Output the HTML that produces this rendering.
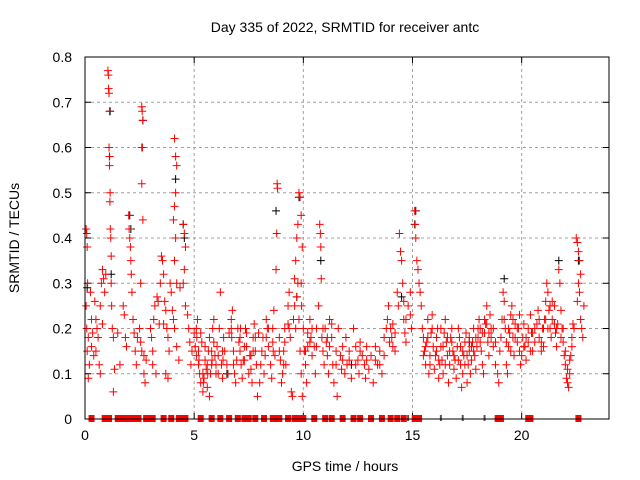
<!DOCTYPE html>
<html><head><meta charset="utf-8"><style>
body{margin:0;background:#fff}
svg{display:block;font-family:"Liberation Sans",sans-serif}
</style></head><body>
<svg id="chart" width="640" height="480">
<text x="345" y="32" font-size="14" text-anchor="middle">Day 335 of 2022, SRMTID for receiver antc</text>
<text x="345" y="471" font-size="14" text-anchor="middle">GPS time / hours</text>
<text transform="translate(19,238) rotate(-90)" font-size="14" text-anchor="middle">SRMTID / TECUs</text>
<g id="grid"></g>
<g id="ticks"></g>
<g id="marks"></g>
<rect x="85" y="57" width="524" height="362" fill="none" stroke="#000" stroke-width="1"/>
</svg>
<script>
const xTicks=[0,5,10,15,20];
const yTicks=[0,0.1,0.2,0.3,0.4,0.5,0.6,0.7,0.8];
const yTickLabels=["0","0.1","0.2","0.3","0.4","0.5","0.6","0.7","0.8"];
const redTimes=[0.05,0.08,0.1,0.12,0.05,0.08,0.15,0.1,0.2,0.15,0.25,0.3,0.35,0.3,0.4,0.45,0.5,0.55,0.6,0.5,0.65,0.7,0.75,0.8,0.85,0.9,0.95,0.7,0.8,
1.05,1.07,1.08,1.1,1.12,1.1,1.13,1.12,1.15,1.14,1.16,1.18,1.2,1.2,1.22,1.25,1.3,1.35,1.3,1.5,1.6,1.75,1.8,1.85,1.9,
2.0,2.02,2.05,2.08,2.1,2.12,2.15,2.2,2.25,2.3,2.35,2.4,
2.6,2.62,2.65,2.6,2.63,2.6,2.65,2.55,2.5,2.55,2.6,2.7,2.75,2.7,2.8,
3.0,3.05,3.1,3.1,3.15,3.2,3.3,3.35,3.4,3.25,3.45,
3.5,3.55,3.6,3.65,3.7,3.75,3.8,3.85,3.7,3.8,3.9,3.95,3.6,
4.1,4.15,4.2,4.15,4.1,4.05,4.15,4.1,4.2,4.0,4.05,4.1,4.2,4.3,4.35,
4.5,4.55,4.6,4.55,4.5,4.6,4.7,4.75,4.8,4.9,4.85,
5.0,5.05,5.1,5.15,5.2,5.25,5.3,5.35,5.4,5.45,5.5,5.55,5.6,5.65,5.7,5.75,5.8,5.85,5.9,5.95,5.3,5.5,5.7,
6.0,6.05,6.1,6.15,6.2,6.25,6.3,6.35,6.4,6.5,6.55,6.6,6.7,6.75,6.8,6.85,6.9,6.95,
7.0,7.05,7.1,7.15,7.2,7.25,7.3,7.35,7.4,7.5,7.55,7.6,7.65,7.7,7.75,7.8,7.85,7.9,7.95,
8.0,8.05,8.1,8.15,8.2,8.25,8.3,8.35,8.4,8.5,8.55,8.6,8.65,8.7,8.8,8.82,8.78,8.75,8.9,8.95,
9.0,9.05,9.1,9.15,9.2,9.3,9.35,9.4,9.45,9.5,9.55,9.6,9.65,9.7,9.75,9.8,9.85,9.9,9.95,9.7,9.8,9.85,9.9,9.95,9.75,
10.0,10.05,10.1,10.15,10.2,10.3,10.35,10.4,10.5,10.55,10.6,10.7,10.75,10.78,10.8,10.82,10.85,10.9,10.95,
11.0,11.05,11.1,11.15,11.2,11.3,11.35,11.4,11.5,11.55,11.6,11.7,11.75,11.8,11.9,11.95,
12.0,12.1,12.2,12.3,12.4,12.5,12.55,12.6,12.7,12.8,12.85,12.9,
13.0,13.1,13.2,13.3,13.4,13.5,13.6,13.7,13.8,13.85,13.9,13.95,
14.0,14.05,14.1,14.2,14.3,14.35,14.4,14.45,14.5,14.55,14.6,14.65,14.7,14.8,14.9,14.95,
15.1,15.12,15.15,15.2,15.25,15.3,15.35,15.4,15.45,15.5,15.55,15.6,15.65,15.7,15.75,15.8,15.85,15.9,15.95,
16.0,16.05,16.1,16.15,16.2,16.25,16.3,16.35,16.4,16.45,16.5,16.55,16.6,16.65,16.7,16.75,16.8,16.85,16.9,16.95,
17.0,17.05,17.1,17.15,17.2,17.25,17.3,17.35,17.4,17.45,17.5,17.55,17.6,17.65,17.7,17.75,17.8,17.85,17.9,17.95,
18.0,18.05,18.1,18.15,18.2,18.25,18.3,18.35,18.4,18.45,18.5,18.55,18.6,18.7,18.8,18.9,18.95,
19.0,19.05,19.1,19.15,19.2,19.25,19.3,19.35,19.4,19.45,19.5,19.55,19.6,19.65,19.7,19.8,19.85,19.9,19.95,
20.0,20.05,20.1,20.15,20.2,20.3,20.4,20.45,20.5,20.6,20.7,20.75,20.8,20.9,20.95,
21.0,21.05,21.1,21.15,21.2,21.25,21.3,21.35,21.4,21.5,21.55,21.6,21.65,21.7,21.75,21.8,21.85,21.9,21.95,
22.0,22.05,22.1,22.15,22.2,22.25,22.3,22.35,22.4,
22.5,22.55,22.6,22.65,22.7,22.6,22.55,22.7,22.75,22.8,22.65,22.85,
5.1,5.12,5.2,5.22,5.4,5.42,5.6,5.62,5.8,5.82,5.9,
6.0,6.1,6.3,6.32,6.7,6.72,6.8,
7.1,7.12,7.3,7.4,7.6,7.7,7.8,
8.3,8.4,8.6,8.62,8.9,
9.1,9.15,9.3,9.35,9.6,9.65,9.9,9.92,
10.1,10.2,10.3,10.4,10.6,10.9,
11.1,11.2,11.3,11.5,11.8,
12.1,12.4,12.6,12.9,
13.3,13.5,13.7,
14.1,14.2,14.6,14.7,14.9,
15.5,15.6,15.7,15.8,15.9,
16.1,16.2,16.3,16.4,16.5,16.6,16.7,16.8,16.9,
17.1,17.2,17.3,17.4,17.5,17.6,17.7,17.8,17.9,
18.0,18.1,18.2,18.3,18.4,18.5,18.6,18.7,18.8,
19.2,19.3,19.4,19.5,19.6,19.7,19.8,19.9,
20.1,20.2,20.3,20.4,20.5,20.6,20.8,20.9,
21.0,21.1,21.2,21.3,21.4,21.5,21.6,21.8,21.9,
22.0,22.1,22.2,22.3];
const redValues=[.42,.41,.38,.3,.25,.2,.18,.15,.12,.09,.28,.22,.19,.16,.14,.26,.22,.2,.18,.15,.12,.1,.3,.33,.31,.28,.32,.25,.21,
.77,.76,.73,.72,.68,.6,.58,.56,.5,.48,.42,.4,.36,.3,.25,.2,.18,.11,.06,.19,.12,.25,.23,.18,.16,
.45,.42,.4,.38,.35,.32,.28,.22,.19,.15,.12,.18,
.69,.68,.66,.6,.6,.52,.44,.3,.2,.17,.15,.1,.08,.14,.13,
.2,.18,.15,.12,.22,.25,.27,.26,.21,.1,.3,
.36,.35,.32,.26,.24,.2,.18,.15,.1,.09,.3,.28,.21,
.62,.58,.56,.5,.47,.44,.4,.35,.3,.24,.22,.2,.16,.13,.29,
.43,.41,.38,.33,.3,.25,.23,.2,.17,.15,.12,
.19,.16,.14,.22,.12,.1,.08,.17,.06,.09,.13,.11,.07,.15,.18,.1,.12,.2,.22,.14,.19,.16,.05,
.1,.16,.14,.2,.28,.12,.09,.18,.15,.12,.1,.19,.22,.24,.15,.1,.08,.13,
.2,.17,.15,.12,.09,.13,.16,.2,.19,.1,.14,.11,.08,.18,.21,.15,.12,.05,.19,
.08,.12,.15,.18,.1,.14,.22,.2,.16,.12,.09,.2,.24,.14,.52,.51,.41,.33,.18,.13,
.08,.1,.15,.2,.12,.25,.28,.18,.06,.05,.22,.31,.35,.4,.43,.5,.49,.45,.38,.27,.22,.15,.1,.05,.3,
.2,.15,.12,.08,.19,.22,.18,.14,.16,.1,.2,.25,.43,.41,.38,.31,.18,.15,.12,
.2,.17,.14,.1,.22,.18,.12,.08,.15,.05,.2,.14,.11,.16,.1,.18,
.12,.15,.09,.2,.16,.13,.1,.17,.14,.12,.09,.16,
.11,.14,.08,.16,.12,.15,.1,.18,.2,.22,.25,.17,
.2,.18,.16,.15,.28,.25,.41,.37,.35,.3,.22,.19,.17,.25,.28,.2,
.46,.43,.4,.35,.33,.3,.28,.25,.2,.18,.15,.12,.17,.22,.1,.14,.19,.23,.16,
.11,.14,.18,.2,.09,.12,.16,.13,.1,.19,.22,.17,.14,.08,.12,.18,.2,.15,.11,.13,
.09,.16,.2,.18,.12,.07,.1,.14,.17,.19,.08,.12,.15,.1,.13,.17,.2,.14,.11,.16,
.18,.22,.2,.15,.12,.1,.19,.21,.25,.17,.14,.23,.2,.16,.12,.1,.08,
.15,.18,.22,.28,.26,.2,.12,.1,.16,.19,.23,.25,.18,.14,.21,.17,.2,.15,.12,
.14,.18,.21,.16,.13,.2,.23,.19,.15,.17,.21,.24,.18,.15,.2,
.16,.22,.26,.3,.28,.24,.2,.18,.22,.25,.19,.16,.21,.33,.3,.24,.2,.17,.14,
.12,.09,.08,.07,.1,.14,.18,.21,.2,
.4,.39,.37,.35,.32,.3,.26,.22,.2,.18,.28,.25,
.2,.18,.15,.13,.1,.08,.12,.1,.15,.13,.17,
.12,.1,.15,.13,.2,.18,.12,
.18,.2,.13,.16,.14,.15,.18,
.18,.2,.17,.15,.15,
.12,.17,.21,.2,.25,.2,.3,.25,
.15,.16,.17,.2,.16,.2,
.18,.16,.21,.12,.13,
.13,.12,.15,.13,
.13,.12,.14,
.21,.19,.26,.22,.23,
.14,.16,.18,.12,.2,
.15,.13,.2,.16,.12,.18,.15,.17,.14,
.13,.16,.15,.12,.14,.18,.16,.15,.18,
.2,.17,.19,.22,.21,.19,.18,.2,.17,
.22,.17,.2,.15,.22,.18,.2,.23,
.16,.18,.17,.15,.19,.2,.22,.17,
.2,.22,.2,.25,.26,.21,.2,.18,.2,
.15,.11,.13,.16];
const blackTimes=[0.1,1.1,1.12,1.15,1.2,2.05,2.1,2.65,4.15,4.5,4.55,8.75,9.7,9.8,10.8,14.5,15.1,15.15,19.2,21.7,22.6,6.5,12.2,17.6];
const blackValues=[.29,.6,.58,.68,.32,.45,.42,.66,.53,.43,.4,.46,.27,.49,.35,.27,.43,.46,.31,.35,.35,.1,.12,.17];
const zeroTimes=[0.3,0.9,1.1,1.5,1.6,1.7,1.8,1.9,2.0,2.15,2.3,2.45,2.8,2.95,3.1,3.6,3.95,4.3,4.5,4.6,5.3,5.8,6.2,6.6,7.0,7.3,7.5,7.8,8.2,8.6,8.8,8.9,9.3,9.6,9.8,10.0,10.5,11.0,11.3,11.8,12.3,12.6,13.1,13.6,14.0,14.3,14.6,15.1,15.3,18.9,19.05,20.3,20.4,22.6];
const zeroBlackTimes=[14.8,16.3,17.3,18.3];

const X0=85,X1=609,Y0=419,Y1=57;
const xs=t=>X0+(t/24)*(X1-X0);
const ys=v=>Y0-(v/0.8)*(Y0-Y1);
const NS="http://www.w3.org/2000/svg";
const grid=document.getElementById('grid'),ticks=document.getElementById('ticks'),marks=document.getElementById('marks');
function mk(tag,attrs,parent){const e=document.createElementNS(NS,tag);for(const k in attrs)e.setAttribute(k,attrs[k]);parent.appendChild(e);return e;}
xTicks.forEach(t=>{
  const x=xs(t);
  if(t>0){const g=mk('line',{x1:x,x2:x,y1:Y1,y2:Y0,stroke:'#a0a0a0','stroke-dasharray':'3,3'},grid);
  
  }
  const tl=mk('text',{x:x,y:Y0+21,'font-size':14,'text-anchor':'middle'},ticks);tl.textContent=t;
  
  
  mk('line',{x1:x,x2:x,y1:Y0,y2:Y0-6,stroke:'#000'},ticks);
  mk('line',{x1:x,x2:x,y1:Y1,y2:Y1+6,stroke:'#000'},ticks);
});
yTicks.forEach((v,i)=>{
  const y=ys(v);
  if(v>0&&v<0.8){const g=mk('line',{x1:X0,x2:X1,y1:y,y2:y,stroke:'#a0a0a0','stroke-dasharray':'3,3'},grid);
  
  }
  const tl=mk('text',{x:X0-13,y:y+5,'font-size':14,'text-anchor':'end'},ticks);tl.textContent=yTickLabels[i];
  
  
  mk('line',{x1:X0,x2:X0+6,y1:y,y2:y,stroke:'#000'},ticks);
  mk('line',{x1:X1,x2:X1-6,y1:y,y2:y,stroke:'#000'},ticks);
});
function plus(t,v,color,name){
  const x=xs(t),y=ys(v);
  const p=mk('path',{d:`M${x-4},${y}H${x+4}M${x},${y-4}V${y+4}`,stroke:color,'stroke-width':1,fill:'none'},marks);
  
  
}
blackTimes.forEach((t,i)=>plus(t,blackValues[i],'#000','black-point'));
redTimes.forEach((t,i)=>plus(t,redValues[i],'#f00','red-point'));
zeroBlackTimes.forEach(t=>{
  const r=mk('rect',{x:xs(t)-1,y:Y0-4,width:2,height:6,fill:'#555'},marks);
  
  
});
zeroTimes.forEach(t=>{
  const r=mk('rect',{x:xs(t)-3,y:Y0-4,width:6,height:7,fill:'#f00'},marks);
  
  
});
</script>
</body></html>
